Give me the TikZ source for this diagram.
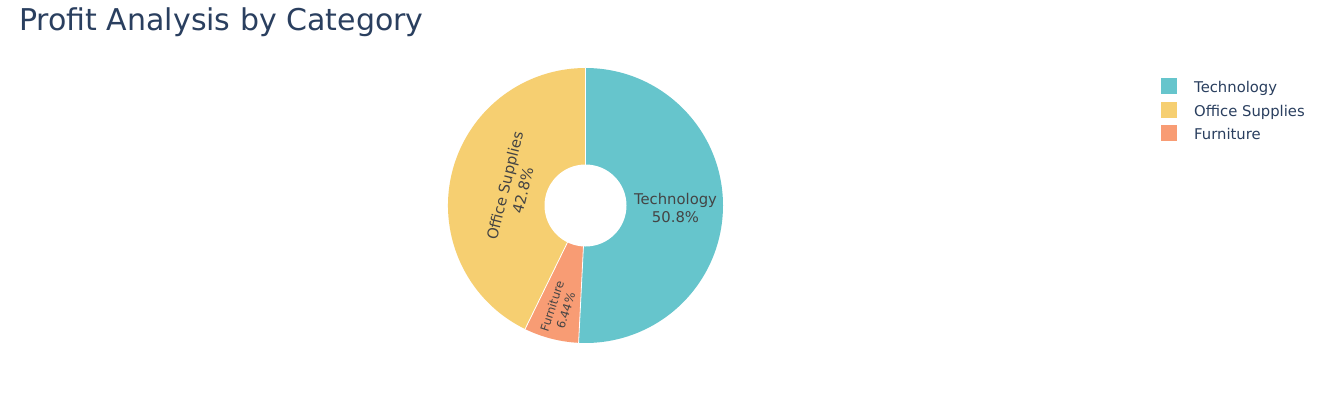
\documentclass[tikz,border=0pt]{standalone}
\usepackage{fontspec}
\setmainfont{DejaVu Sans}
\definecolor{techc}{HTML}{66C5CC}
\definecolor{offc}{HTML}{F6CF71}
\definecolor{furc}{HTML}{F89C74}
\definecolor{titlec}{HTML}{2A3F5F}
\definecolor{lblc}{HTML}{444444}
\tikzset{
  sep/.style={draw=white, line width=0.8pt},
  legsq/.style={fill=#1, draw=none, minimum size=16pt, inner sep=0pt},
  legtxt/.style={text=titlec, font=\fontsize{14.8}{17}\selectfont, inner sep=0pt, anchor=base west},
  pielbl/.style={text=lblc, font=\fontsize{14.8}{17}\selectfont, inner sep=0pt, anchor=base},
  smalllbl/.style={text=lblc, font=\fontsize{11.7}{14}\selectfont, inner sep=0pt, anchor=base}
}
\begin{document}
\begin{tikzpicture}[x=1pt,y=1pt]
\useasboundingbox (0,0) rectangle (1323,408);
\fill[white] (0,0) rectangle (1323,408);
\def\R{137.5}
\coordinate (c) at (585.5,202.5);
% slices
\fill[techc] (c) -- ++(90:\R) arc[start angle=90, end angle=-92.88, radius=\R] -- cycle;
\fill[furc] (c) -- ++(-92.88:\R) arc[start angle=-92.88, end angle=-116.06, radius=\R] -- cycle;
\fill[offc] (c) -- ++(-116.06:\R) arc[start angle=-116.06, end angle=-270, radius=\R] -- cycle;
\draw[sep] (c) -- ++(90:\R);
\draw[sep] (c) -- ++(-92.88:\R);
\draw[sep] (c) -- ++(-116.06:\R);
\fill[white] (c) circle[radius=41];
% title
\node[anchor=base west, inner sep=0pt, text=titlec, font=\fontsize{30}{35}\selectfont] (title) at (19,377) {Profit Analysis by Category};
% slice labels
\node[pielbl] (techlbl) at (675.5,204) {Technology};
\node[pielbl] (techpct) at (675.5,185.3) {50.8\%};
\begin{scope}[shift={(514,220)}, rotate=76, transform shape]
  \node[pielbl] (offlbl) at (0,4) {Office Supplies};
  \node[pielbl] (offpct) at (0,-14.6) {42.8\%};
\end{scope}
\begin{scope}[shift={(559,99.5)}, rotate=72, transform shape]
  \node[smalllbl] (furlbl) at (0,3) {Furniture};
  \node[smalllbl] (furpct) at (0,-11.5) {6.44\%};
\end{scope}
% legend
\node[legsq=techc] (sq1) at (1169,322) {};
\node[legsq=offc] (sq2) at (1169,298.5) {};
\node[legsq=furc] (sq3) at (1169,275) {};
\node[legtxt] (lg1) at (1194,315.3) {Technology};
\node[legtxt] (lg2) at (1194,291.8) {Office Supplies};
\node[legtxt] (lg3) at (1194,268.3) {Furniture};
\end{tikzpicture}
\end{document}
